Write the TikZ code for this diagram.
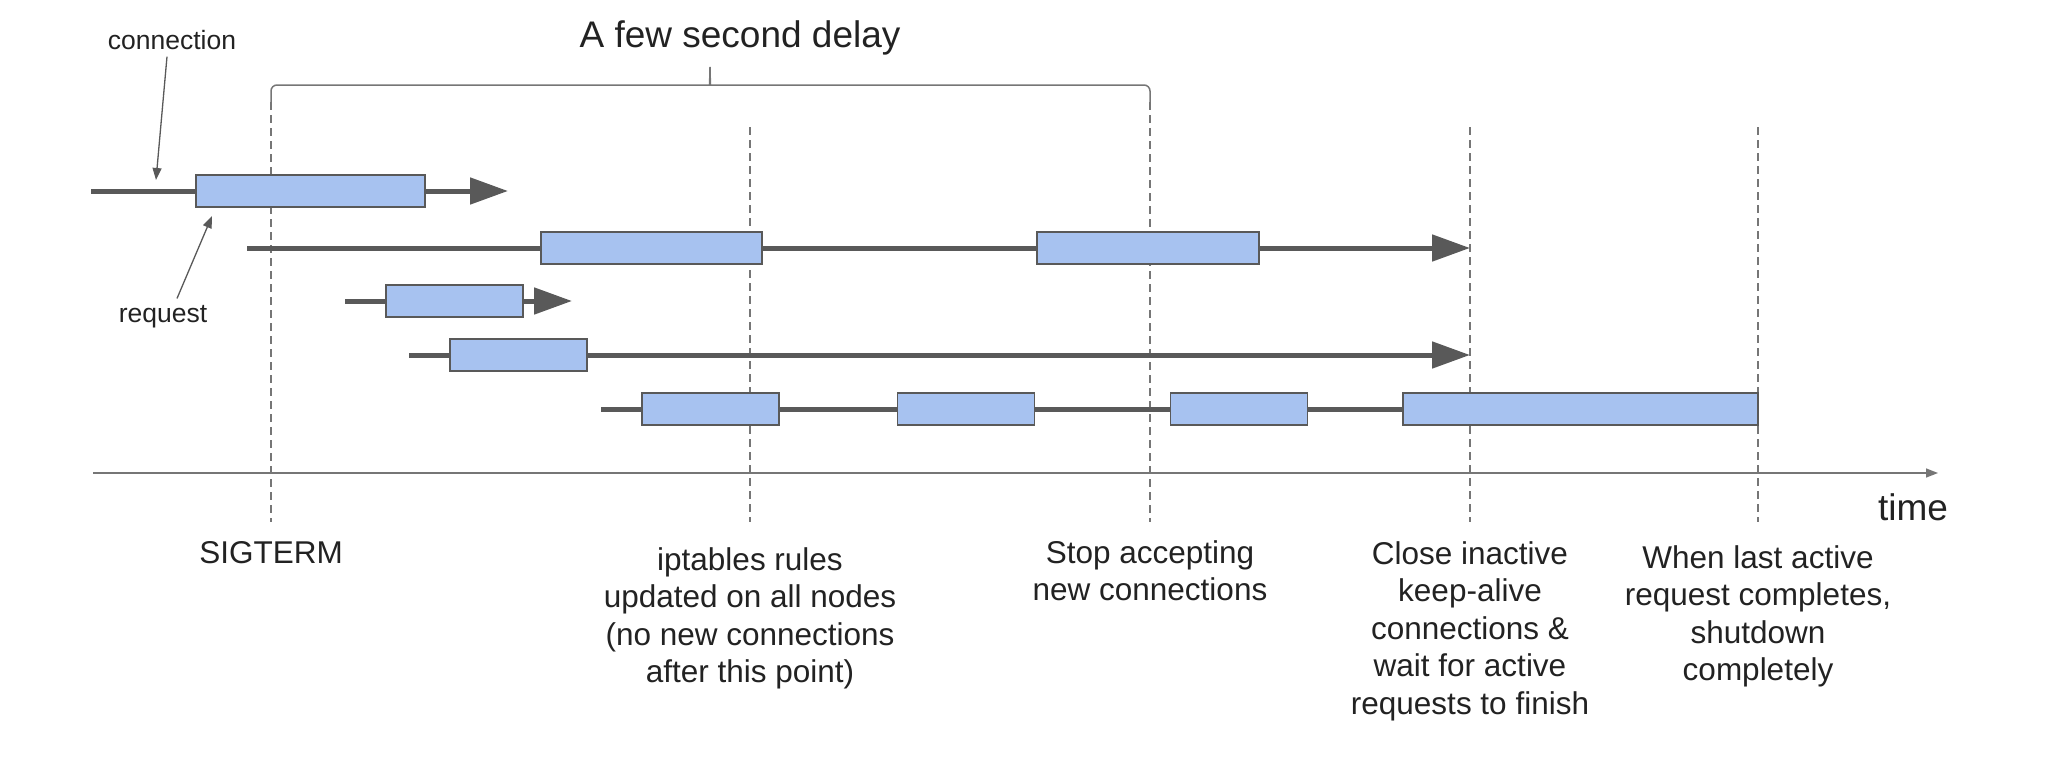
\documentclass[tikz,border=0pt]{standalone}
\usepackage{fontspec}
\setmainfont{Liberation Sans}
\usepackage{tikz}
\usetikzlibrary{arrows.meta, positioning}
\usepackage{xcolor}
\definecolor{bleureq}{HTML}{A7C2F0}
\definecolor{grisfonce}{HTML}{595959}
\definecolor{grisaxe}{HTML}{767676}
\definecolor{encre}{HTML}{222222}
\tikzstyle{requete} = [rectangle, minimum height = 16pt, inner sep = 0pt, draw = grisfonce, line width = 0.75pt, fill = bleureq]
\tikzstyle{ligne} = [draw = grisfonce, line width = 2.5pt]
\tikzstyle{fleche} = [ligne, -{Triangle[length = 19pt, width = 13pt]}]
\tikzstyle{repere} = [draw = grisaxe, dash pattern = on 4pt off 2.5pt, line width = 0.65pt]
\tikzstyle{accolade} = [draw = grisaxe, line width = 0.75pt]
\tikzstyle{axe} = [draw = grisaxe, line width = 0.75pt, -{Triangle[length = 6pt, width = 4.5pt]}]
\tikzstyle{pointeur} = [draw = grisfonce, line width = 0.65pt, -{Triangle[length = 6pt, width = 4.5pt]}]
\tikzstyle{etiquette} = [align = center, anchor = north, inner sep = 0pt, text = encre, font = \fontsize{15.75}{18.75}\selectfont]
\tikzstyle{note} = [anchor = base, inner sep = 0pt, text = encre, font = \fontsize{13.25}{15}\selectfont]
\tikzstyle{titre} = [anchor = base, inner sep = 0pt, text = encre, font = \fontsize{18.5}{21}\selectfont]

\begin{document}
\begin{tikzpicture}[x = 0.5pt, y = -0.5pt]
\useasboundingbox (0,0) rectangle (2072,760);

% reperes verticaux
\coordinate (d1h) at (271,102);
\coordinate (d1b) at (271,522);
\coordinate (d2h) at (750,127);
\coordinate (d2b) at (750,522);
\coordinate (d3h) at (1150,102);
\coordinate (d3b) at (1150,522);
\coordinate (d4h) at (1470,127);
\coordinate (d4b) at (1470,522);
\coordinate (d5h) at (1758,127);
\coordinate (d5b) at (1758,522);
\draw[repere] (d1h) -- (d1b);
\draw[repere] (d2h) -- (d2b);
\draw[repere] (d3h) -- (d3b);
\draw[repere] (d4h) -- (d4b);
\draw[repere] (d5h) -- (d5b);

% accolade du delai
\coordinate (pointe) at (710,67);
\draw[accolade, rounded corners = 3pt] (d1h) -- (271,85) -- (704,85) .. controls (709,85) and (710,80) .. (pointe);
\draw[accolade, rounded corners = 3pt] (pointe) .. controls (710,80) and (711,85) .. (716,85) -- (1150,85) -- (d3h);
\node (delai) [titre] at (740,47) {A few second delay};

% axe du temps
\coordinate (axe0) at (93,473);
\coordinate (axe1) at (1938,473);
\draw[axe] (axe0) -- (axe1);
\node (temps) [titre] at (1913,520) {time};

% connexions et requetes
\coordinate (s1) at (91,191);
\coordinate (t1) at (508,191);
\node (b1) [requete, minimum width = 114.5pt] at (310.5,191) {};
\draw[ligne] (s1) -- (b1);
\draw[fleche] (b1) -- (t1);

\coordinate (s2) at (247,248);
\coordinate (t2) at (1470,248);
\node (b2a) [requete, minimum width = 110.5pt] at (651.5,248) {};
\node (b2b) [requete, minimum width = 111pt] at (1148,248) {};
\draw[ligne] (s2) -- (b2a);
\draw[ligne] (b2a) -- (b2b);
\draw[fleche] (b2b) -- (t2);

\coordinate (s3) at (345,301);
\coordinate (t3) at (572,301);
\node (b3) [requete, minimum width = 68.5pt] at (454.5,301) {};
\draw[ligne] (s3) -- (b3);
\draw[fleche] (b3) -- (t3);

\coordinate (s4) at (409,355);
\coordinate (t4) at (1470,355);
\node (b4) [requete, minimum width = 68.5pt] at (518.5,355) {};
\draw[ligne] (s4) -- (b4);
\draw[fleche] (b4) -- (t4);

\coordinate (s5) at (601,409);
\node (b5a) [requete, minimum width = 68.5pt] at (710.5,409) {};
\node (b5b) [requete, minimum width = 68.5pt] at (966,409) {};
\node (b5c) [requete, minimum width = 68.5pt] at (1239,409) {};
\node (b5d) [requete, minimum width = 177.5pt] at (1580.5,409) {};
\draw[ligne] (s5) -- (b5a);
\draw[ligne] (b5a) -- (b5b);
\draw[ligne] (b5b) -- (b5c);
\draw[ligne] (b5c) -- (b5d);

% legendes
\node (cnx) [note] at (172,49) {connection};
\node (req) [note] at (163,322) {request};
\coordinate (pc) at (156,180);
\coordinate (pr) at (212,216);
\draw[pointeur] ([xshift = -2.5pt, yshift = -3.5pt]cnx.south) -- (pc);
\draw[pointeur] ([xshift = 7pt, yshift = 3pt]req.north) -- (pr);

% etapes
\node (sig) [etiquette] at (271,541) {SIGTERM};
\node (ipt) [etiquette] at (750,547) {iptables rules\\updated on all nodes\\(no new connections\\after this point)};
\node (stop) [etiquette] at (1150,540) {Stop accepting\\new connections};
\node (close) [etiquette] at (1470,541) {Close inactive\\keep-alive\\connections \&\\wait for active\\requests to finish};
\node (fin) [etiquette] at (1758,545) {When last active\\request completes,\\shutdown\\completely};
\end{tikzpicture}
\end{document}
